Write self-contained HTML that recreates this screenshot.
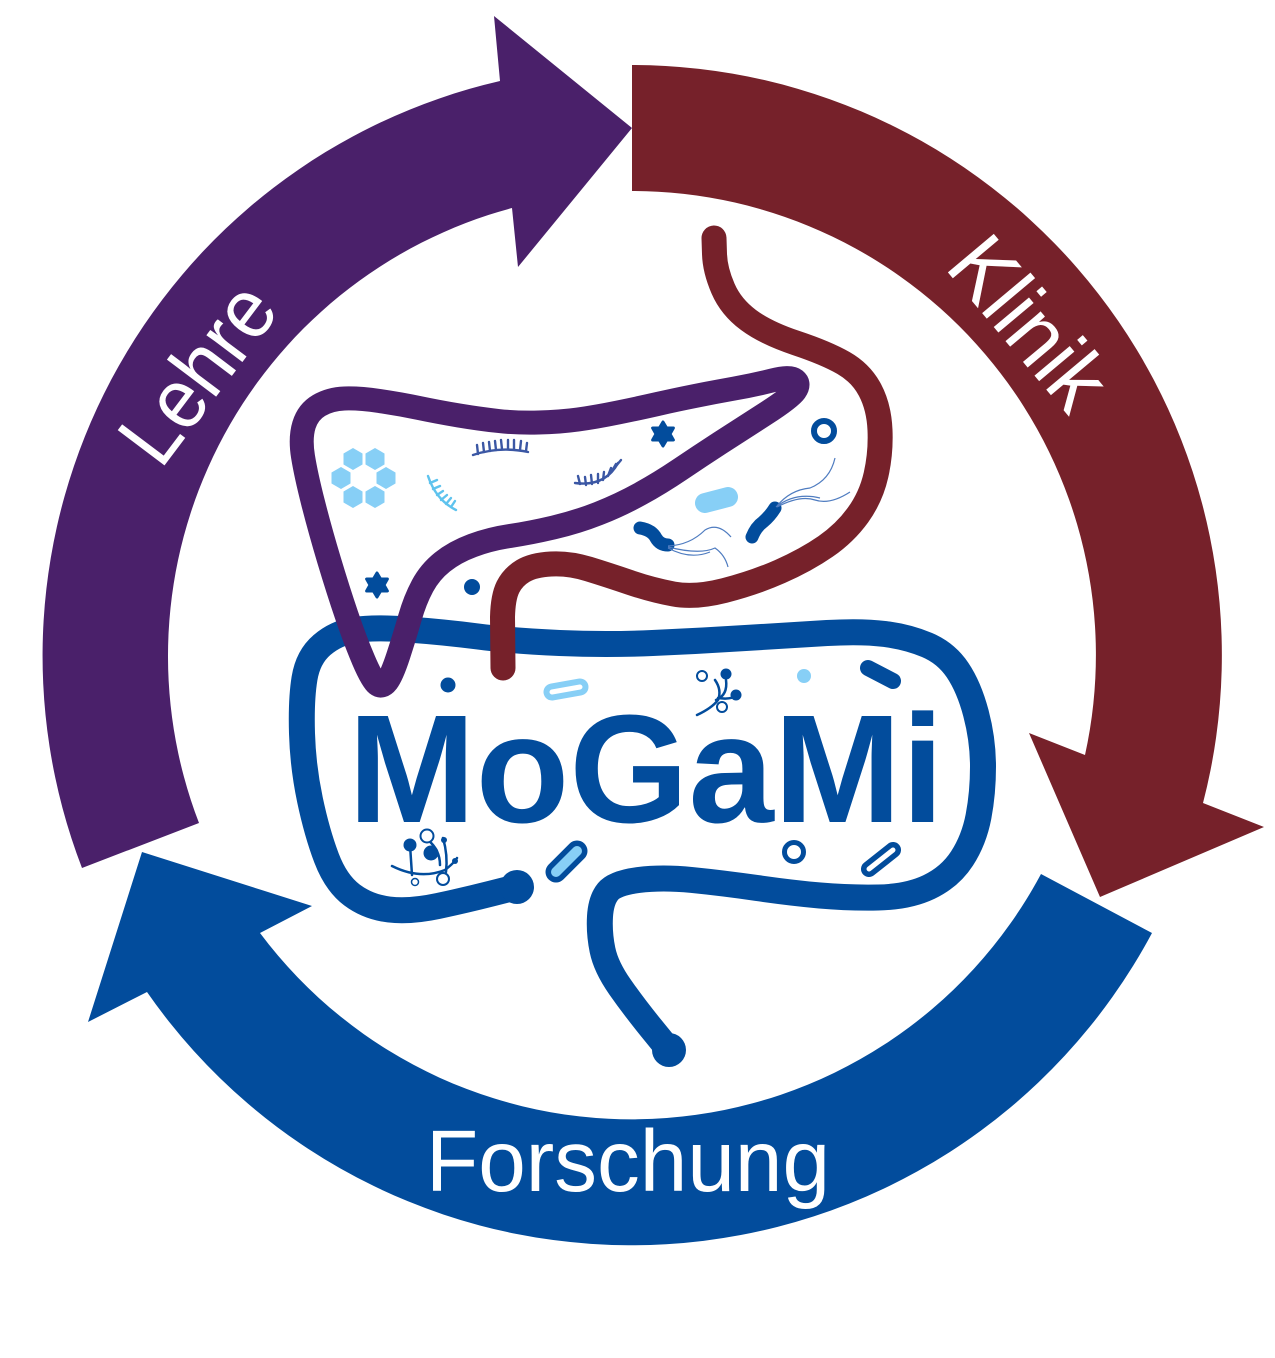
<!DOCTYPE html>
<html><head><meta charset="utf-8"><style>
html,body{margin:0;padding:0;background:#fff;}
svg{display:block;}
</style></head><body>
<svg width="1275" height="1358" viewBox="0 0 1275 1358" xmlns="http://www.w3.org/2000/svg">
<rect width="1275" height="1358" fill="#fff"/>
<!-- ring arrows -->
<path d="M632 65 A590 590 0 0 1 1203 803 L1264 827 L1100 897 L1029 733 L1085 755 A464 464 0 0 0 632 191 Z" fill="#76212a"/>
<path d="M1152 933 A590 590 0 0 1 147 992 L88 1022 L142 852 L312 906 L260 933 A464 464 0 0 0 1041 874 Z" fill="#024c9c"/>
<path d="M82 868 A590 590 0 0 1 500 81 L494 16 L632 128 L518 267 L512 208 A464 464 0 0 0 199 823 Z" fill="#4a206a"/>

<g font-family="'Liberation Sans', sans-serif" fill="#fff">
<text x="0" y="31" font-size="87" text-anchor="middle" textLength="195" lengthAdjust="spacingAndGlyphs" transform="translate(1030 322) rotate(50)">Klinik</text>
<text x="0" y="31" font-size="85" text-anchor="middle" textLength="200" lengthAdjust="spacingAndGlyphs" transform="translate(196 372) rotate(-53)">Lehre</text>
<text x="426" y="1191" font-size="87" textLength="404" lengthAdjust="spacingAndGlyphs">Forschung</text>
</g>

<!-- blue intestine -->
<path d="M517 887 L491.5 893.5 Q466 900 438 906 Q410 912 389 909.5 Q368 907 352 895 Q336 883 326.5 858 Q317 833 310 800 Q303 767 302 733.5 Q301 700 304.5 678.5 Q308 657 322 645 Q336 633 354.5 630 Q373 627 408 629.5 Q443 632 478 636.5 Q513 641 559.5 643 Q606 645 652.5 643 Q699 641 745.5 638 Q792 635 827 633 Q862 631 885 634 Q908 637 927 645 Q946 653 957.5 670 Q969 687 976 713.5 Q983 740 983 766.5 Q983 793 978.5 816.5 Q974 840 962 858.5 Q950 877 929 887 Q908 897 878 897.5 Q848 898 820 895.5 Q792 893 757 888 Q722 883 692 880 Q662 877 638.5 880 Q615 883 608 891.5 Q601 900 600 916.5 Q599 933 602.5 950 Q606 967 620 987 Q634 1007 651.5 1028.5 L669 1050" fill="none" stroke="#024c9c" stroke-width="26" stroke-linecap="round" stroke-linejoin="round"/>
<circle cx="517" cy="887" r="17" fill="#024c9c"/>
<circle cx="669" cy="1050" r="17" fill="#024c9c"/>

<!-- red tube -->
<path d="M714 238 L714.5 254 Q715 270 723 288.5 Q731 307 748.5 320 Q766 333 796 343 Q826 353 843.5 363 Q861 373 870 390 Q879 407 880 430 Q881 453 876 475 Q871 497 858 515 Q845 533 825.5 546.5 Q806 560 780 571.5 Q754 583 724.5 590.5 Q695 598 673.5 594 Q652 590 630 582.5 Q608 575 588.5 569 Q569 563 551 564 Q533 565 523 571 Q513 577 508 587 Q503 597 502.5 617 L503 668" fill="none" stroke="#76212a" stroke-width="25" stroke-linecap="round" stroke-linejoin="round"/>

<!-- purple organ -->
<path d="M734.5 388.5 Q754 385 772 380.5 Q790 376 795 380 Q800 384 795 391 Q790 398 765 414 Q740 430 720 443 Q700 456 680 469.5 Q660 483 640 494 Q620 505 598.5 513.5 Q577 522 553.5 527.5 Q530 533 510 536 Q490 539 472.5 545.5 Q455 552 442.5 562 Q430 572 422.5 586 Q415 600 410 617.5 Q405 635 398.5 655 Q392 675 387 681.5 Q382 688 377 684 Q372 680 363.5 660 Q355 640 346.5 615 Q338 590 329 560 Q320 530 313 502.5 Q306 475 303 456.5 Q300 438 304 425 Q308 412 319 405.5 Q330 399 344.5 398.5 Q359 398 379.5 401 Q400 404 419 408 Q438 412 459 415.5 Q480 419 498.5 421 Q517 423 538.5 422.5 Q560 422 578 419.5 Q596 417 618 412.5 Q640 408 657.5 404 Q675 400 695 396 Q715 392 734.5 388.5 Z" fill="none" stroke="#4a206a" stroke-width="24" stroke-linecap="round" stroke-linejoin="round"/>

<!-- MoGaMi -->
<text x="348" y="822" font-family="'Liberation Sans', sans-serif" font-weight="bold" font-size="154" fill="#024c9c" textLength="596" lengthAdjust="spacingAndGlyphs">MoGaMi</text>

<!-- hexagons -->
<g fill="#87cff6">
<polygon transform="translate(353 459)" points="0,-11 9.5,-5.5 9.5,5.5 0,11 -9.5,5.5 -9.5,-5.5"/>
<polygon transform="translate(375 459)" points="0,-11 9.5,-5.5 9.5,5.5 0,11 -9.5,5.5 -9.5,-5.5"/>
<polygon transform="translate(341 478)" points="0,-11 9.5,-5.5 9.5,5.5 0,11 -9.5,5.5 -9.5,-5.5"/>
<polygon transform="translate(386 478)" points="0,-11 9.5,-5.5 9.5,5.5 0,11 -9.5,5.5 -9.5,-5.5"/>
<polygon transform="translate(353 497)" points="0,-11 9.5,-5.5 9.5,5.5 0,11 -9.5,5.5 -9.5,-5.5"/>
<polygon transform="translate(375 497)" points="0,-11 9.5,-5.5 9.5,5.5 0,11 -9.5,5.5 -9.5,-5.5"/>
</g>

<!-- combs -->
<g fill="none" stroke="#3b57a4" stroke-width="2.4" stroke-linecap="round">
<path d="M473 455 Q500 446 528 452"/>
<path d="M478 454 l-1 -9 M484 452 l-1 -9 M490 451 l-1 -9 M496 450 l-1 -9 M502 449 l-1 -9 M508 449 l0 -9 M514 449 l0 -9 M520 450 l1 -9 M526 451 l1 -8"/>
<path d="M575 483 Q605 487 618 463"/>
<path d="M580 484 l-2 -8 M586 485 l-1 -8 M592 484 l-1 -9 M598 483 l-0 -9 M603 480 l1 -8 M608 476 l3 -8 M612 471 l4 -7 M616 466 l5 -6"/>
</g>
<g fill="none" stroke="#5ec3ee" stroke-width="2.4" stroke-linecap="round">
<path d="M428 476 Q436 500 456 510"/>
<path d="M430 483 l7 -3 M433 489 l7 -3 M437 495 l6 -4 M441 500 l6 -5 M446 504 l5 -6 M451 507 l4 -6"/>
</g>

<!-- stars -->
<g fill="#024c9c" stroke="#024c9c" stroke-width="3" stroke-linejoin="round">
<polygon transform="translate(663 434)" points="0,-12 3.5,-6.06 10.4,-6 7,0 10.4,6 3.5,6.06 0,12 -3.5,6.06 -10.4,6 -7,0 -10.4,-6 -3.5,-6.06"/>
<polygon transform="translate(377 585)" points="0,-12 3.5,-6.06 10.4,-6 7,0 10.4,6 3.5,6.06 0,12 -3.5,6.06 -10.4,6 -7,0 -10.4,-6 -3.5,-6.06"/>
</g>
<circle cx="824" cy="431" r="10" fill="none" stroke="#024c9c" stroke-width="6"/>
<circle cx="472" cy="587" r="8" fill="#024c9c"/>
<line x1="705" y1="503" x2="728" y2="497" stroke="#87cff6" stroke-width="20" stroke-linecap="round"/>

<!-- bacteria -->
<g fill="none" stroke="#024c9c" stroke-width="13" stroke-linecap="round" stroke-linejoin="round">
<path d="M640 528 Q652 530 656 538 Q660 545 668 545"/>
<path d="M752 537 Q756 527 763 522 Q770 516 775 508"/>
</g>
<g fill="none" stroke="#4f7cc0" stroke-width="1.2">
<path d="M668 546 Q690 545 705 530 Q718 522 731 537"/>
<path d="M668 547 Q700 555 715 548 Q725 555 728 567"/>
<path d="M668 548 Q690 560 710 552"/>
<path d="M777 506 Q790 490 810 488 Q830 480 835 458"/>
<path d="M777 507 Q800 495 815 500 Q830 505 850 492"/>
<path d="M776 507 Q795 492 820 498"/>
</g>

<!-- lower icons -->
<circle cx="448" cy="685" r="7.5" fill="#024c9c"/>
<line x1="552" y1="692" x2="580" y2="687" stroke="#87cff6" stroke-width="17" stroke-linecap="round"/>
<line x1="552" y1="692" x2="580" y2="687" stroke="#fff" stroke-width="5" stroke-linecap="round"/>
<circle cx="804" cy="676" r="7" fill="#87cff6"/>
<line x1="868" y1="668" x2="893" y2="681" stroke="#024c9c" stroke-width="16" stroke-linecap="round"/>
<g fill="none" stroke="#024c9c" stroke-width="2.5" stroke-linecap="round">
<path d="M697 715 Q712 708 718 700 Q722 690 715 680"/>
<path d="M716 700 Q728 695 726 680"/>
<path d="M718 698 Q732 700 736 695"/>
</g>
<circle cx="702" cy="676" r="5" fill="#fff" stroke="#024c9c" stroke-width="2"/>
<circle cx="726" cy="674" r="5.5" fill="#024c9c"/>
<circle cx="736" cy="695" r="5.5" fill="#024c9c"/>
<circle cx="722" cy="707" r="5" fill="#fff" stroke="#024c9c" stroke-width="2"/>

<g fill="none" stroke="#024c9c" stroke-width="2.5" stroke-linecap="round">
<path d="M392 866 Q420 880 445 870 Q455 862 457 858"/>
<path d="M410 845 L412 875"/>
<path d="M428 840 Q440 850 440 865"/>
<path d="M443 838 Q448 855 446 872"/>
</g>
<circle cx="410" cy="845" r="6.5" fill="#024c9c"/>
<circle cx="427" cy="836" r="6.5" fill="#fff" stroke="#024c9c" stroke-width="2"/>
<circle cx="431" cy="853" r="7.5" fill="#024c9c"/>
<circle cx="444" cy="840" r="3" fill="#024c9c"/>
<circle cx="443" cy="879" r="6" fill="#fff" stroke="#024c9c" stroke-width="2"/>
<circle cx="415" cy="882" r="3.5" fill="#fff" stroke="#024c9c" stroke-width="1.5"/>
<circle cx="455" cy="861" r="3" fill="#024c9c"/>

<line x1="556" y1="872" x2="577" y2="851" stroke="#024c9c" stroke-width="21" stroke-linecap="round"/>
<line x1="556" y1="872" x2="577" y2="851" stroke="#87cff6" stroke-width="10" stroke-linecap="round"/>
<circle cx="794" cy="852" r="9.5" fill="none" stroke="#024c9c" stroke-width="5"/>
<line x1="869" y1="869" x2="893" y2="850" stroke="#024c9c" stroke-width="16" stroke-linecap="round"/>
<line x1="869" y1="869" x2="893" y2="850" stroke="#fff" stroke-width="5" stroke-linecap="round"/>
</svg>
</body></html>
